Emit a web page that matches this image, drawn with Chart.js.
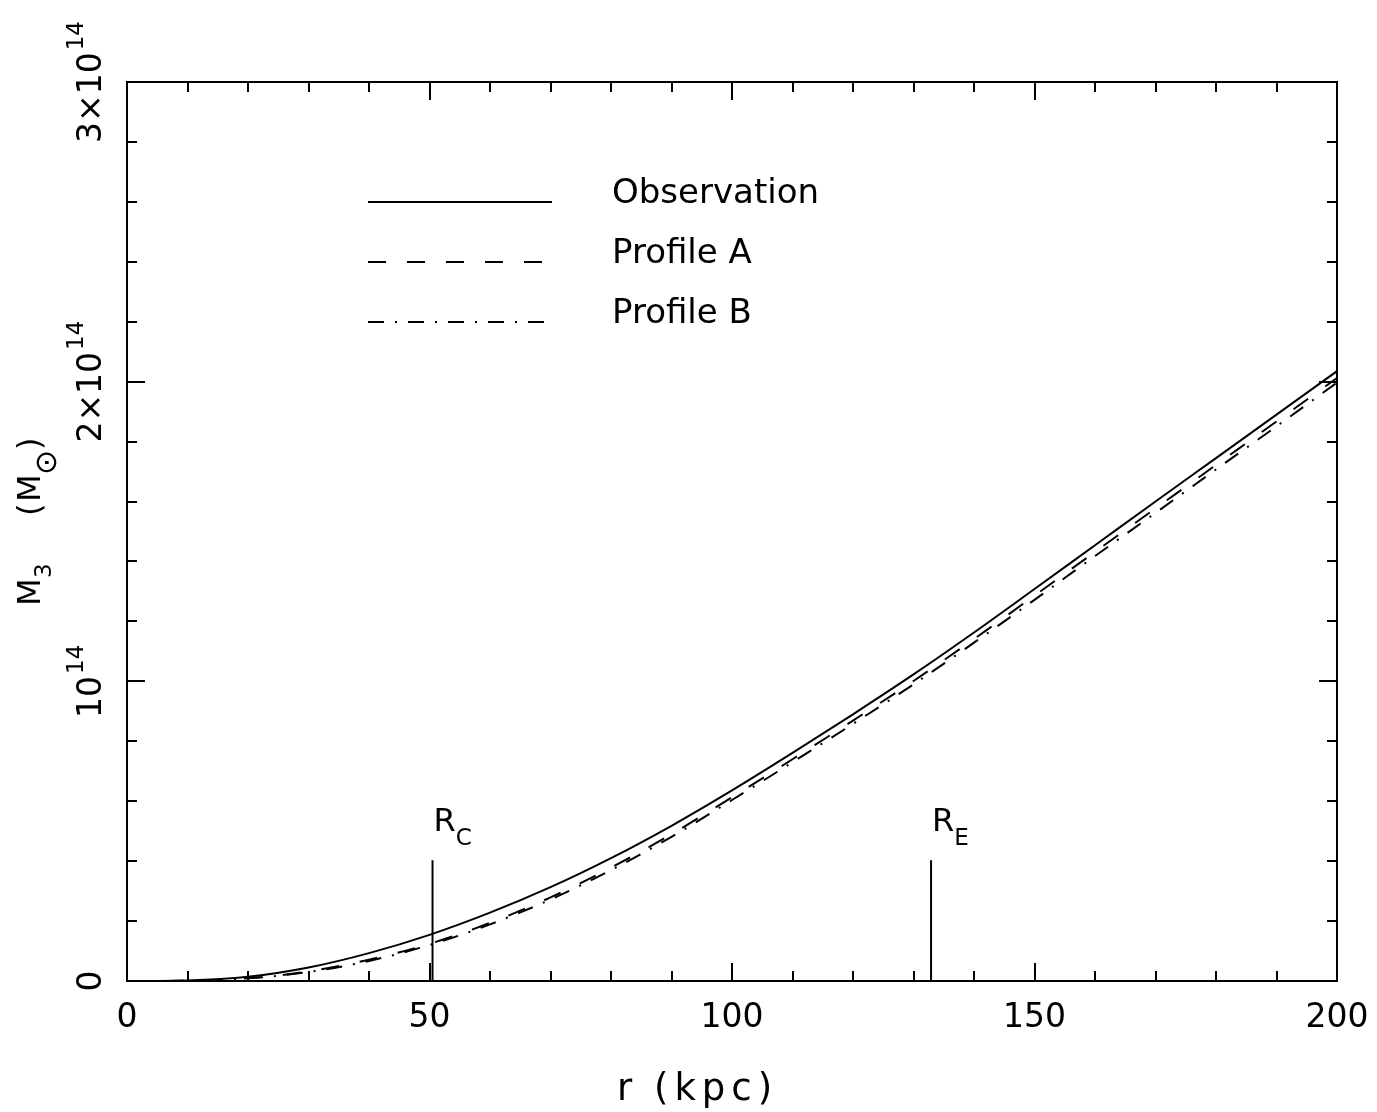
<!DOCTYPE html>
<html>
<head>
<meta charset="utf-8">
<script src="https://cdn.jsdelivr.net/npm/chart.js@4.4.1/dist/chart.umd.min.js"></script>
<style>
  html, body { margin: 0; padding: 0; background: #ffffff; }
  #wrap { width: 1377px; height: 1112px; }
</style>
</head>
<body>
<div id="wrap"><canvas id="c" width="1377" height="1112"></canvas></div>
<script>
// ---- data (mass in units of 10^14 solar masses, radius in kpc) ----
const radii       = [0, 10, 20, 30, 40, 50, 60, 70, 80, 90, 100, 110, 120, 130, 140, 150, 160, 170, 180, 190, 200];
const observation = [0, 0.002, 0.014, 0.045, 0.093, 0.154, 0.228, 0.313, 0.410, 0.518, 0.636, 0.761, 0.890, 1.023, 1.163, 1.308, 1.454, 1.600, 1.745, 1.890, 2.035];
const profileA    = [0, 0.001, 0.009, 0.032, 0.071, 0.124, 0.194, 0.279, 0.378, 0.490, 0.613, 0.740, 0.869, 1.001, 1.141, 1.286, 1.432, 1.577, 1.722, 1.867, 2.012];
const profileB    = [0, 0.001, 0.009, 0.030, 0.067, 0.120, 0.189, 0.272, 0.370, 0.481, 0.604, 0.730, 0.858, 0.990, 1.129, 1.272, 1.418, 1.562, 1.707, 1.851, 1.997];
const seriesNames = ['Observation', 'Profile A', 'Profile B'];
const markerRadii = [50.5, 132.9];
const markerTop   = 0.403;
const markerMain  = ['R', 'R'];
const markerSub   = ['C', 'E'];
const xTickValues = [0, 50, 100, 150, 200];
const xTickLabels = ['0', '50', '100', '150', '200'];
const yTickValues = [0, 1, 2, 3];
const yTickBase   = ['0', '10', '2×10', '3×10'];
const yTickSup    = ['', '14', '14', '14'];

const pts = (ys) => radii.map((r, i) => ({ x: r, y: ys[i] }));
const dashA = [18, 21];
const dashB = [16, 11, 2, 11];
const FONT = '"DejaVu Sans", sans-serif';

const datasets = [
  { label: seriesNames[0], data: pts(observation), borderColor: '#000', borderWidth: 2, pointRadius: 0, fill: false, cubicInterpolationMode: 'monotone' },
  { label: seriesNames[1], data: pts(profileA), borderColor: '#000', borderWidth: 2, borderDash: dashA, pointRadius: 0, fill: false, cubicInterpolationMode: 'monotone' },
  { label: seriesNames[2], data: pts(profileB), borderColor: '#000', borderWidth: 2, borderDash: dashB, pointRadius: 0, fill: false, cubicInterpolationMode: 'monotone' }
];
markerRadii.forEach((r, i) => {
  datasets.push({ label: 'marker' + i, data: [{ x: r, y: 0 }, { x: r, y: markerTop }], borderColor: '#000', borderWidth: 2, pointRadius: 0, fill: false });
});

const decor = {
  id: 'decor',
  afterDraw(chart) {
    const ctx = chart.ctx;
    const a = chart.chartArea;
    const xs = chart.scales.x, ys = chart.scales.y;
    ctx.save();
    ctx.strokeStyle = '#000';
    ctx.fillStyle = '#000';
    ctx.setLineDash([]);
    // frame
    ctx.lineWidth = 2;
    ctx.strokeRect(a.left, a.top, a.right - a.left, a.bottom - a.top);
    // ticks
    ctx.beginPath();
    for (let v = 0; v <= 200; v += 10) {
      const px = Math.round(xs.getPixelForValue(v));
      const len = (v % 50 === 0) ? 18 : 10;
      ctx.moveTo(px, a.bottom); ctx.lineTo(px, a.bottom - len);
      ctx.moveTo(px, a.top); ctx.lineTo(px, a.top + len);
    }
    for (let k = 0; k <= 15; k++) {
      const v = k * 0.2;
      const py = Math.round(ys.getPixelForValue(v));
      const len = (k % 5 === 0) ? 18 : 10;
      ctx.moveTo(a.left, py); ctx.lineTo(a.left + len, py);
      ctx.moveTo(a.right, py); ctx.lineTo(a.right - len, py);
    }
    ctx.stroke();

    // x tick labels
    ctx.font = '33px ' + FONT;
    ctx.textAlign = 'center';
    ctx.textBaseline = 'alphabetic';
    xTickValues.forEach((v, i) => {
      ctx.fillText(xTickLabels[i], xs.getPixelForValue(v), 1027);
    });

    // y tick labels (rotated)
    yTickValues.forEach((v, i) => {
      const py = ys.getPixelForValue(v);
      ctx.save();
      ctx.translate(101, py);
      ctx.rotate(-Math.PI / 2);
      ctx.textAlign = 'left';
      ctx.font = '33px ' + FONT;
      const wb = ctx.measureText(yTickBase[i]).width;
      ctx.font = '23px ' + FONT;
      const ws = yTickSup[i] ? ctx.measureText(yTickSup[i]).width + 2 : 0;
      const start = -(wb + ws) / 2;
      ctx.font = '33px ' + FONT;
      ctx.fillText(yTickBase[i], start, 0);
      if (yTickSup[i]) {
        ctx.font = '23px ' + FONT;
        ctx.fillText(yTickSup[i], start + wb + 2, -18);
      }
      ctx.restore();
    });

    // x axis title
    ctx.textAlign = 'left';
    ctx.font = '37px ' + FONT;
    ctx.fillText('r', 617, 1100);
    ctx.save();
    if ('letterSpacing' in ctx) ctx.letterSpacing = '6px';
    ctx.fillText('(kpc)', 654, 1100);
    ctx.restore();

    // y axis title (rotated)
    ctx.save();
    ctx.translate(40, 606);
    ctx.rotate(-Math.PI / 2);
    ctx.textAlign = 'left';
    ctx.font = '32px ' + FONT;
    ctx.fillText('M', 0, 0);
    ctx.font = '23px ' + FONT;
    ctx.fillText('3', 28, 11);
    ctx.font = '32px ' + FONT;
    ctx.fillText('(', 90, 0);
    ctx.fillText('M', 104, 0);
    ctx.font = '30px ' + FONT;
    ctx.fillText('⊙', 131, 16);
    ctx.font = '32px ' + FONT;
    ctx.fillText(')', 156, 0);
    ctx.restore();

    // legend
    const legY = [202, 262, 322];
    const dashes = [[], dashA, dashB];
    ctx.lineWidth = 2;
    legY.forEach((y, i) => {
      ctx.setLineDash(dashes[i]);
      ctx.beginPath();
      ctx.moveTo(368, y); ctx.lineTo(552, y);
      ctx.stroke();
    });
    ctx.setLineDash([]);
    ctx.font = '34px ' + FONT;
    ctx.textAlign = 'left';
    legY.forEach((y, i) => ctx.fillText(seriesNames[i], 612, y + 1));

    // marker labels
    markerRadii.forEach((r, i) => {
      const px = xs.getPixelForValue(r);
      ctx.font = '32px ' + FONT;
      ctx.fillText(markerMain[i], px + 1, 831);
      const w = ctx.measureText(markerMain[i]).width;
      ctx.font = '23px ' + FONT;
      ctx.fillText(markerSub[i], px + w + 1, 845);
    });
    ctx.restore();
  }
};

new Chart(document.getElementById('c'), {
  type: 'line',
  data: { datasets },
  options: {
    responsive: false,
    animation: false,
    layout: { padding: { left: 127, right: 40, top: 82, bottom: 131 } },
    plugins: { legend: { display: false }, tooltip: { enabled: false } },
    scales: {
      x: { type: 'linear', min: 0, max: 200, display: false },
      y: { type: 'linear', min: 0, max: 3, display: false }
    }
  },
  plugins: [decor]
});
</script>
</body>
</html>
